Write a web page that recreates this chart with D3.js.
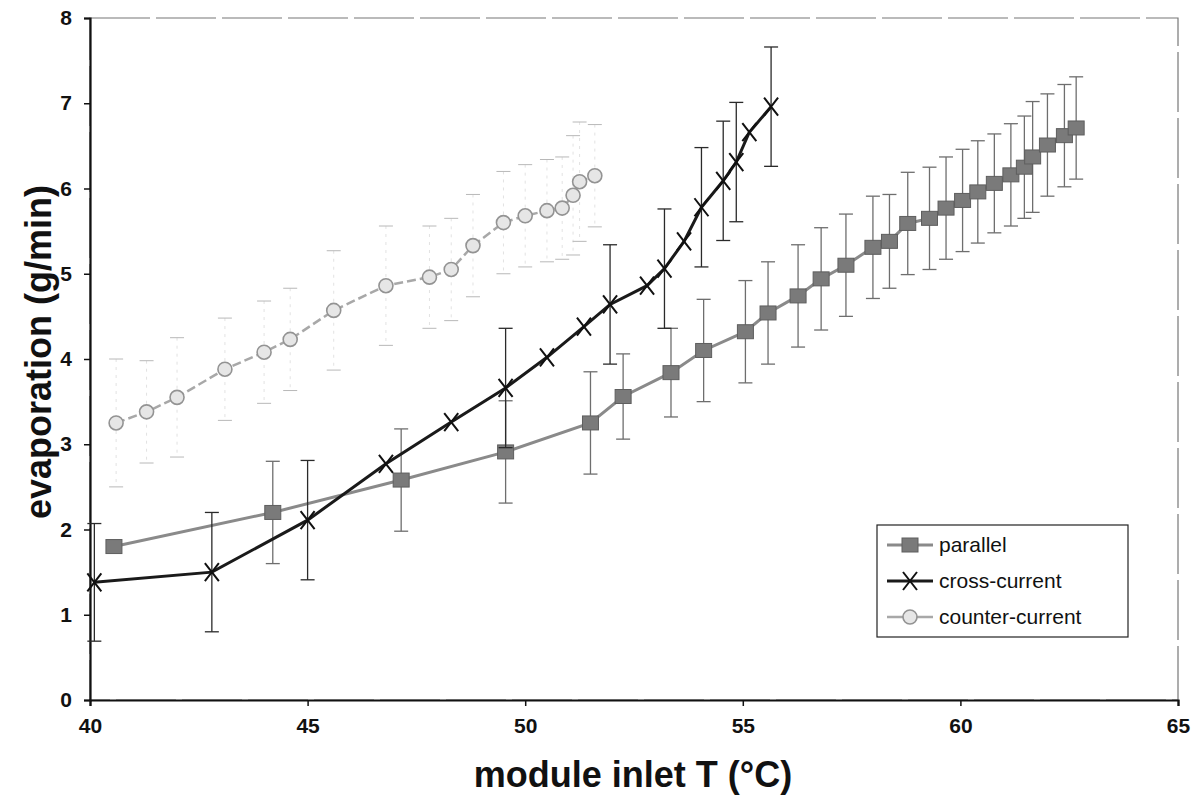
<!DOCTYPE html>
<html>
<head>
<meta charset="utf-8">
<script src="https://cdn.jsdelivr.net/npm/d3@7"></script>
<style>
  body { margin: 0; background: #fff; }
  text { font-family: "Liberation Sans", Arial, sans-serif; }
</style>
</head>
<body>
<div id="chart-div"></div>
<script>
// data
var parallelT = [40.55, 44.2, 47.15, 49.55, 51.5, 52.25, 53.35, 54.1, 55.06, 55.58, 56.27, 56.8, 57.37, 57.99, 58.37, 58.79, 59.29, 59.67, 60.05, 60.4, 60.78, 61.16, 61.47, 61.66, 62.0, 62.39, 62.66];
var parallelEvap = [1.8, 2.2, 2.58, 2.91, 3.25, 3.56, 3.84, 4.1, 4.32, 4.54, 4.74, 4.94, 5.1, 5.31, 5.38, 5.59, 5.65, 5.77, 5.86, 5.96, 6.06, 6.16, 6.25, 6.37, 6.51, 6.62, 6.71];
var parallelErr = [null, 0.6, 0.6, 0.6, 0.6, 0.5, 0.52, 0.6, 0.6, 0.6, 0.6, 0.6, 0.6, 0.6, 0.55, 0.6, 0.6, 0.6, 0.6, 0.6, 0.58, 0.6, 0.6, 0.65, 0.6, 0.6, 0.6];

var crossT = [40.1, 42.8, 45.0, 46.8, 48.3, 49.55, 50.5, 51.35, 51.95, 52.8, 53.2, 53.65, 54.05, 54.55, 54.85, 55.15, 55.65];
var crossEvap = [1.38, 1.5, 2.11, 2.77, 3.26, 3.66, 4.02, 4.38, 4.64, 4.86, 5.06, 5.38, 5.78, 6.09, 6.31, 6.66, 6.96];
var crossErr = [0.69, 0.7, 0.7, null, null, 0.7, null, null, 0.7, null, 0.7, null, 0.7, 0.7, 0.7, null, 0.7];

var counterT = [40.6, 41.3, 42.0, 43.1, 44.0, 44.6, 45.6, 46.8, 47.8, 48.3, 48.8, 49.5, 50.0, 50.5, 50.85, 51.1, 51.25, 51.6];
var counterEvap = [3.25, 3.38, 3.55, 3.88, 4.08, 4.23, 4.57, 4.86, 4.96, 5.05, 5.33, 5.6, 5.68, 5.74, 5.77, 5.92, 6.08, 6.15];
var counterErr = [0.75, 0.6, 0.7, 0.6, 0.6, 0.6, 0.7, 0.7, 0.6, 0.6, 0.6, 0.6, 0.6, 0.6, 0.6, 0.7, 0.7, 0.6];

var xTicks = [40, 45, 50, 55, 60, 65];
var yTicks = [0, 1, 2, 3, 4, 5, 6, 7, 8];
var seriesNames = ["parallel", "cross-current", "counter-current"];

var props = {
  width: 1202,
  height: 797,
  marginTop: 18,
  marginBottom: 97,
  marginLeft: 90,
  marginRight: 24
};

function zip(xs, ys, es){
  return xs.map(function(x, i){ return {x: x, y: ys[i], e: es[i]}; });
}

var series = [
  {name: seriesNames[0], data: zip(parallelT, parallelEvap, parallelErr), line: "#8a8a8a", lw: 3, err: "#6e6e6e", errW: 1.3, dash: null, marker: "square"},
  {name: seriesNames[1], data: zip(crossT, crossEvap, crossErr), line: "#1a1a1a", lw: 3, err: "#2a2a2a", errW: 1.3, dash: null, marker: "x"},
  {name: seriesNames[2], data: zip(counterT, counterEvap, counterErr), line: "#a8a8a8", lw: 2.5, err: "#e2e2e2", errW: 1, dash: "9,4", marker: "circle"}
];

var svg = d3.select("#chart-div").append("svg").attr("width", props.width).attr("height", props.height);

var x = d3.scaleLinear().domain([40, 65]).range([props.marginLeft, props.width - props.marginRight]);
var y = d3.scaleLinear().domain([0, 8]).range([props.height - props.marginBottom, props.marginTop]);

// plot frame (top / right faint)
svg.append("rect")
  .attr("x", x(40)).attr("y", y(8))
  .attr("width", x(65) - x(40)).attr("height", y(0) - y(8))
  .style("fill", "none").style("stroke", "#777").style("stroke-width", 1.2)
  .style("stroke-dasharray", "60,6");

var xAxis = svg.append("g")
  .attr("transform", "translate(0," + y(0) + ")")
  .call(d3.axisBottom(x).tickValues(xTicks).tickSize(6).tickPadding(12).tickFormat(d3.format("d")));
var yAxis = svg.append("g")
  .attr("transform", "translate(" + x(40) + ",0)")
  .call(d3.axisLeft(y).tickValues(yTicks).tickSize(6).tickPadding(12).tickFormat(d3.format("d")));

[xAxis, yAxis].forEach(function(a){
  a.attr("font-size", null).attr("font-family", null);
  a.select(".domain").style("stroke", "#111").style("stroke-width", 2.2);
  a.selectAll(".tick line").style("stroke", "#111").style("stroke-width", 1.5);
  a.selectAll(".tick text").style("font-size", "21px").style("font-weight", "bold").style("fill", "#111");
});

// axis titles
svg.append("text")
  .attr("x", 633).attr("y", 787)
  .attr("text-anchor", "middle")
  .style("font-size", "36px").style("font-weight", "bold").style("fill", "#111")
  .text("module inlet T (°C)");
svg.append("text")
  .attr("transform", "translate(51,352) rotate(-90)")
  .attr("text-anchor", "middle")
  .style("font-size", "36px").style("font-weight", "bold").style("fill", "#111")
  .text("evaporation (g/min)");

var lineGenerator = d3.line().x(function(d){ return x(d.x); }).y(function(d){ return y(d.y); });

function drawMarker(g, type, cx, cy){
  if(type == "square"){
    g.append("rect").attr("x", cx - 8).attr("y", cy - 7).attr("width", 16).attr("height", 14)
      .style("fill", "#7a7a7a").style("stroke", "#5e5e5e").style("stroke-width", 1);
  } else if(type == "x"){
    g.append("path")
      .attr("d", "M" + (cx - 7) + "," + (cy - 9) + "L" + (cx + 7) + "," + (cy + 9) + "M" + (cx + 7) + "," + (cy - 9) + "L" + (cx - 7) + "," + (cy + 9))
      .style("stroke", "#111").style("stroke-width", 2).style("fill", "none");
  } else {
    g.append("circle").attr("cx", cx).attr("cy", cy).attr("r", 7)
      .style("fill", "#e6e6e6").style("stroke", "#939393").style("stroke-width", 1.6);
  }
}

// draw counter first, then parallel, then cross on top
[2, 0, 1].forEach(function(si){
  var s = series[si];
  var g = svg.append("g").attr("class", "series-" + si);

  // error bars
  var eb = g.selectAll(".err").data(s.data.filter(function(d){ return d.e != null; })).enter().append("g").attr("class", "err");
  eb.append("line")
    .attr("x1", function(d){ return x(d.x); }).attr("x2", function(d){ return x(d.x); })
    .attr("y1", function(d){ return y(d.y + d.e); }).attr("y2", function(d){ return y(d.y - d.e); })
    .style("stroke", s.err).style("stroke-width", s.errW)
    .style("stroke-dasharray", si == 2 ? "3,5" : null);
  [1, -1].forEach(function(sign){
    eb.append("line")
      .attr("x1", function(d){ return x(d.x) - 7; }).attr("x2", function(d){ return x(d.x) + 7; })
      .attr("y1", function(d){ return y(d.y + sign * d.e); }).attr("y2", function(d){ return y(d.y + sign * d.e); })
      .style("stroke", si == 2 ? "#b8b8b8" : s.err).style("stroke-width", s.errW);
  });

  g.append("path")
    .datum(s.data)
    .attr("d", lineGenerator)
    .style("fill", "none").style("stroke", s.line).style("stroke-width", s.lw)
    .style("stroke-dasharray", s.dash);

  s.data.forEach(function(d){ drawMarker(g, s.marker, x(d.x), y(d.y)); });
});

// legend
var legend = svg.append("g").attr("transform", "translate(877,525)");
legend.append("rect").attr("width", 251).attr("height", 112)
  .style("fill", "#fff").style("stroke", "#222").style("stroke-width", 1.2);
series.forEach(function(s, i){
  var ly = 20 + i * 36;
  legend.append("line").attr("x1", 10).attr("x2", 56).attr("y1", ly).attr("y2", ly)
    .style("stroke", s.line).style("stroke-width", s.lw);
  drawMarker(legend, s.marker, 33, ly);
  legend.append("text").attr("x", 62).attr("y", ly + 7)
    .style("font-size", "21px").style("fill", "#111")
    .text(s.name);
});
</script>
</body>
</html>
